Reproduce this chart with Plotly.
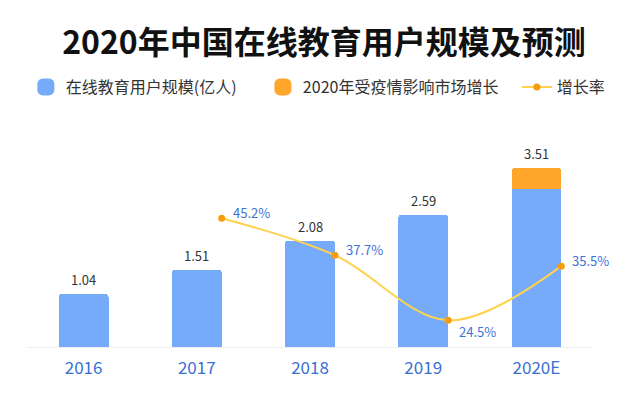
import plotly.graph_objects as go

# ---- data ----
years = ["2016", "2017", "2018", "2019", "2020E"]
users = [1.04, 1.51, 2.08, 2.59, 3.10]          # 在线教育用户规模(亿人)
covid_extra = [None, None, None, None, 0.41]     # 2020年受疫情影响市场增长
growth = [None, 45.2, 37.7, 24.5, 35.5]          # 增长率 (%)
growth_label_below = [False, False, False, True, False]

# ---- styles ----
FONT = "Noto Sans CJK SC"
BLUE = "#76AAFB"
ORANGE = "#FFA62B"
LINE = "#FFD24F"
DOT = "#F59E0B"
LABEL_BLUE = "#3D72D8"
BAR_W = 0.44

NAME_USERS = "在线教育用户规模(亿人)"
NAME_COVID = "2020年受疫情影响市场增长"
NAME_GROWTH = "增长率"

idx = list(range(len(years)))
totals = [u + (c or 0) for u, c in zip(users, covid_extra)]

fig = go.Figure()
fig.add_trace(go.Bar(
    x=idx, y=users, width=BAR_W, marker=dict(color=BLUE, line=dict(width=0)),
    name=NAME_USERS, showlegend=False,
))
fig.add_trace(go.Bar(
    x=idx, y=covid_extra, width=BAR_W, marker=dict(color=ORANGE, line=dict(width=0)),
    name=NAME_COVID, showlegend=False,
))
# legend entries (larger square swatches)
fig.add_trace(go.Bar(
    x=[None], y=[None], marker=dict(color=BLUE, line=dict(width=5, color=BLUE)),
    name=NAME_USERS, legendwidth=192,
))
fig.add_trace(go.Bar(
    x=[None], y=[None], marker=dict(color=ORANGE, line=dict(width=5, color=ORANGE)),
    name=NAME_COVID, legendwidth=209,
))
gx = [i + BAR_W / 2 for i, g in zip(idx, growth) if g is not None]
gy = [g for g in growth if g is not None]
gbelow = [b for b, g in zip(growth_label_below, growth) if g is not None]
fig.add_trace(go.Scatter(
    x=gx, y=gy, yaxis="y2", mode="lines+markers",
    line=dict(color=LINE, width=2, shape="spline", smoothing=1),
    marker=dict(color=DOT, size=7),
    name=NAME_GROWTH, cliponaxis=False, legendwidth=48,
))

annotations = []
for i, t in zip(idx, totals):
    annotations.append(dict(x=i, y=t, xref="x", yref="y", text=f"{t:.2f}",
                            showarrow=False, yanchor="bottom", yshift=3,
                            font=dict(size=13, color="#333333", family=FONT)))
for x, g, below in zip(gx, gy, gbelow):
    annotations.append(dict(x=x, y=g, xref="x", yref="y2", text=f"{g}%",
                            showarrow=False, xanchor="left", yanchor="middle",
                            xshift=9, yshift=-11 if below else 6,
                            font=dict(size=13, color=LABEL_BLUE, family=FONT)))

fig.update_layout(
    width=641, height=399,
    margin=dict(l=27, r=48, t=150, b=52, autoexpand=False),
    paper_bgcolor="white", plot_bgcolor="white",
    barmode="stack", barcornerradius=3,
    font=dict(family=FONT, color="#333333"),
    title=dict(text="2020年中国在线教育用户规模及预测", x=324 / 641, xanchor="center",
               xref="container", yref="container", y=1 - 43 / 399, yanchor="middle",
               font=dict(size=32, color="#111111", family=FONT, weight="bold")),
    legend=dict(orientation="h", xref="paper", yref="paper",
                x=-0.002, xanchor="left", y=(347 - 87) / 197, yanchor="middle",
                font=dict(size=16, color="#333333", family=FONT),
                traceorder="normal"),
    annotations=annotations,
    xaxis=dict(range=[-0.5, 4.5], tickvals=idx, ticktext=years, showgrid=False,
               zeroline=False, showline=True, linecolor="#EEEEEE", linewidth=1,
               ticks="outside", ticklen=6, tickcolor="rgba(0,0,0,0)",
               tickfont=dict(size=17, color="#3B6FD4", family=FONT)),
    yaxis=dict(range=[0, 197 / 51], visible=False),
    yaxis2=dict(range=[19.1, 59.05], overlaying="y", visible=False),
)

fig.write_html("out.html", config={"displayModeBar": False},
               post_script="document.body.style.margin='0';document.body.style.overflow='hidden';")
